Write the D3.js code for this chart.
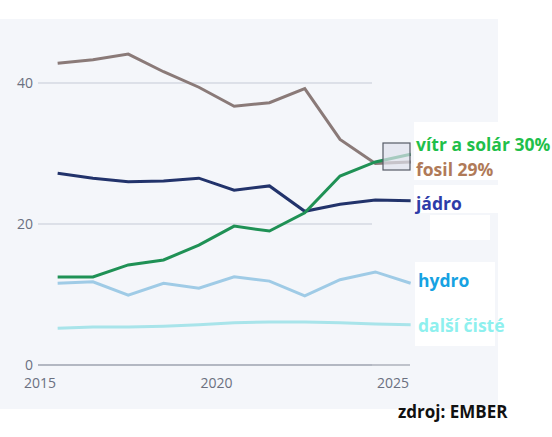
<!DOCTYPE html><html><head><meta charset="utf-8"><script src="https://cdn.jsdelivr.net/npm/d3@7"></script>
<style>body{margin:0;background:#fff}text{font-family:"Open Sans",sans-serif}</style></head><body><svg id="c" width="552" height="437"></svg><script>
const years=[2015.5,2016.5,2017.5,2018.5,2019.5,2020.5,2021.5,2022.5,2023.5,2024.5,2025.5];
const fossil=[42.8,43.3,44.1,41.6,39.4,36.7,37.2,39.2,32.0,28.6,28.8];
const windSolar=[12.5,12.5,14.2,14.9,17.0,19.7,19.0,21.6,26.8,28.8,29.9];
const nuclear=[27.2,26.5,26.0,26.1,26.5,24.8,25.4,21.8,22.8,23.4,23.3];
const hydro=[11.6,11.8,9.9,11.6,10.9,12.5,11.9,9.8,12.1,13.2,11.6];
const otherClean=[5.2,5.4,5.4,5.5,5.7,6.0,6.1,6.1,6.0,5.8,5.7];
const yTicks=[0,20,40], xTicks=[2015,2020,2025];
const svg=d3.select("#c");
svg.append("rect").attr("x",0).attr("y",19).attr("width",498).attr("height",390).attr("fill","#f4f6fa");
const x=d3.scaleLinear().domain([2015,2025]).range([40,393]);
const y=d3.scaleLinear().domain([0,40]).range([365,83]);
svg.append("g").selectAll("line").data(yTicks).join("line").attr("x1",38).attr("x2",372).attr("y1",d=>y(d)).attr("y2",d=>y(d)).attr("stroke","#c5cad6").attr("stroke-width",1);
svg.append("g").selectAll("text").data(yTicks).join("text").attr("x",33).attr("y",d=>y(d)+5).attr("text-anchor","end").attr("font-size",14).attr("fill","#6b7080").text(d=>d);
svg.append("line").attr("x1",38).attr("x2",410).attr("y1",365).attr("y2",365).attr("stroke","#8a8f9c");
svg.append("g").selectAll("text").data(xTicks).join("text").attr("x",d=>x(d)).attr("y",388).attr("text-anchor","middle").attr("font-size",14).attr("fill","#6b7080").text(d=>d);
const series=[[otherClean,"#a8e4ea"],[hydro,"#9fcbe6"],[nuclear,"#22336b"],[fossil,"#8a7a78"],[windSolar,"#1f9155"]];
const line=d3.line().x((d,i)=>x(years[i])).y(d=>y(d));
series.forEach(([v,c])=>svg.append("path").attr("d",line(v)).attr("fill","none").attr("stroke",c).attr("stroke-width",3));
svg.append("rect").attr("x",383).attr("y",143).attr("width",27).attr("height",27).attr("fill","#dfe3ec").attr("fill-opacity",0.7).attr("stroke","#555a66").attr("stroke-width",1.2);
const bgs=[[414,122,138,58],[414,185,84,28],[415,262,80,60],[415,306,80,40],[430,215,60,25],[0,409,285,28]];
bgs.forEach(b=>svg.append("rect").attr("x",b[0]).attr("y",b[1]).attr("width",b[2]).attr("height",b[3]).attr("fill","#fff"));
const labels=[["vítr a solár 30%",416,151,"#1fbf4a"],["fosil 29%",416,176,"#b07a58"],["jádro",416,210,"#2d3ca8"],["hydro",418,287,"#16a2e2"],["další čisté",418,332,"#8ef0ee"],["zdroj: EMBER",398,418,"#111"]];
labels.forEach(l=>svg.append("text").attr("x",l[1]).attr("y",l[2]).attr("font-size",l[0].startsWith("zdroj")?17:17.5).attr("font-weight","bold").attr("fill",l[3]).text(l[0]));
</script></body></html>
